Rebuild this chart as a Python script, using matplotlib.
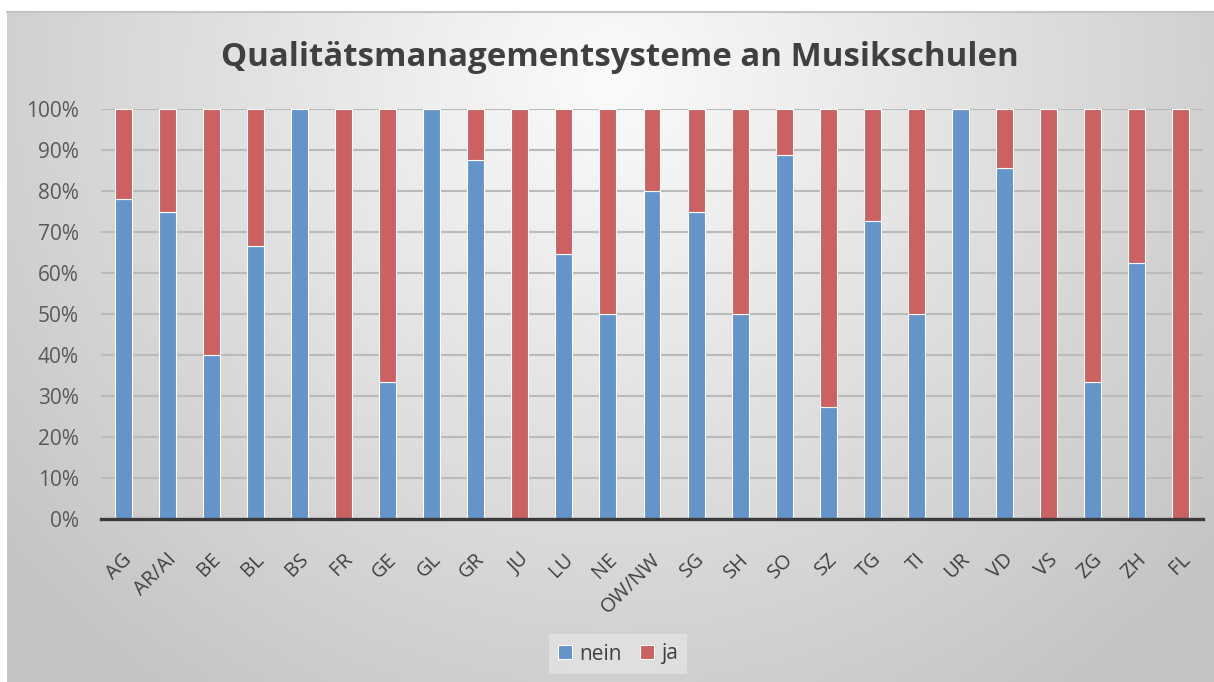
import numpy as np
import matplotlib
matplotlib.use("Agg")
import matplotlib.pyplot as plt
import matplotlib.transforms as mtransforms
from matplotlib.ticker import PercentFormatter

categories = ["AG", "AR/AI", "BE", "BL", "BS", "FR", "GE", "GL", "GR", "JU", "LU", "NE",
              "OW/NW", "SG", "SH", "SO", "SZ", "TG", "TI", "UR", "VD", "VS", "ZG", "ZH", "FL"]
nein = [78.0, 75.0, 40.0, 66.7, 100.0, 0.0, 33.3, 100.0, 87.5, 0.0, 64.7, 50.0,
        80.0, 75.0, 50.0, 88.9, 27.3, 72.7, 50.0, 100.0, 85.7, 0.0, 33.3, 62.5, 0.0]
ja = [22.0, 25.0, 60.0, 33.3, 0.0, 100.0, 66.7, 0.0, 12.5, 100.0, 35.3, 50.0,
      20.0, 25.0, 50.0, 11.1, 72.7, 27.3, 50.0, 0.0, 14.3, 100.0, 66.7, 37.5, 100.0]
title = "Qualitätsmanagementsysteme an Musikschulen"

W, H = 1214, 682
fig = plt.figure(figsize=(W / 100, H / 100), dpi=100, facecolor="white")

# background gradient panel
bg = fig.add_axes([7 / W, 0, 1 - 7 / W, 1 - 12 / H], zorder=0)
yy, xx = np.mgrid[0:1:300j, 0:1:500j]
r = np.sqrt(((xx - 0.5) / 0.6) ** 2 + ((yy - 0.1) / 1.05) ** 2)
val = np.clip(0.985 - 0.20 * r, 0.77, 1.0)
img = np.dstack([val, val, val])
bg.imshow(img, aspect="auto", extent=[0, 1, 0, 1], origin="upper")
bg.set_xlim(0, 1)
bg.set_ylim(0, 1)
bg.axis("off")
fig.add_artist(plt.Line2D([7 / W, 1], [1 - 12 / H, 1 - 12 / H], color="#c4c4c4", lw=1.5,
                          transform=fig.transFigure, zorder=1))

ax = fig.add_axes([101 / W, 1 - 519 / H, (1203 - 101) / W, (519 - 109) / H], zorder=2)
ax.patch.set_alpha(0)
x = np.arange(len(categories))
blue = "#6494CA"
red = "#CB6261"
ax.bar(x, nein, width=0.385, color=blue, edgecolor="white", linewidth=0.8, label="nein", zorder=3)
ax.bar(x, ja, width=0.385, bottom=nein, color=red, edgecolor="white", linewidth=0.8, label="ja", zorder=3)

ax.set_xlim(-0.5, len(categories) - 0.5)
ax.set_ylim(0, 100)
ax.set_yticks(np.arange(0, 101, 10))
ax.yaxis.set_major_formatter(PercentFormatter(decimals=0))
ax.yaxis.grid(True, color="#bababa", linewidth=1.5, zorder=0)
ax.set_axisbelow(True)
for s in ["top", "right", "left"]:
    ax.spines[s].set_visible(False)
ax.spines["bottom"].set_color("#3a3a3a")
ax.spines["bottom"].set_linewidth(2.4)
ax.spines["bottom"].set_zorder(4)
ax.tick_params(axis="both", length=0)
ax.tick_params(axis="y", pad=16, labelsize=15, labelcolor="#595959")
ax.set_xticks(x)
ax.set_xticklabels(categories, rotation=45, ha="right", rotation_mode="anchor",
                   fontsize=14.5, color="#404040")
ax.tick_params(axis="x", pad=22)
offset = mtransforms.ScaledTranslation(-1 / 100, 0, fig.dpi_scale_trans)
for lab in ax.get_xticklabels():
    lab.set_transform(lab.get_transform() + offset)
for lab in ax.get_yticklabels() + ax.get_xticklabels():
    lab.set_fontfamily("Open Sans")

fig.text(620 / W, 1 - 57 / H, title, ha="center", va="center", fontsize=23.8,
         fontweight="bold", color="#404040", family="Open Sans")

leg = ax.legend(loc="center", bbox_to_anchor=(618 / W, 1 - 654 / H),
                bbox_transform=fig.transFigure, ncol=2, frameon=True, fancybox=False,
                prop={"family": "Open Sans", "size": 15}, handlelength=0.65,
                handleheight=0.65, handletextpad=0.35, columnspacing=0.9,
                borderpad=0.45)
leg.get_frame().set_facecolor("#e3e3e3")
leg.get_frame().set_edgecolor("none")
leg.get_frame().set_alpha(0.8)
for t in leg.get_texts():
    t.set_color("#404040")

fig.savefig("out.png", dpi=100, facecolor="white")
